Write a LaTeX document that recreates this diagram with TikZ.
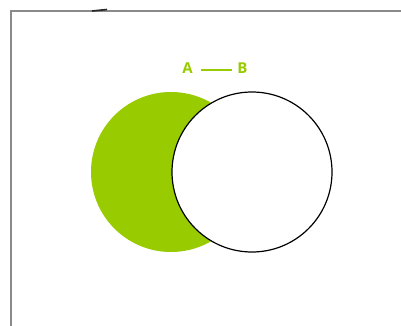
\documentclass[tikz,border=0pt]{standalone}
\usepackage{fontspec}
\setmainfont{Open Sans}
\definecolor{vgreen}{HTML}{99CC00}
\definecolor{framegray}{HTML}{8A8A8A}
\begin{document}
\begin{tikzpicture}[x=1pt,y=-1pt,
  lbl/.style={text=vgreen,font=\fontsize{15}{17}\selectfont\bfseries,inner sep=0pt},
  setcircle/.style={circle,minimum size=160pt,inner sep=0pt}]
\useasboundingbox (0,0) rectangle (401,326);
\fill[white] (0,0) rectangle (401,326);
% frame
\draw[framegray,line width=2pt] (11,326) -- (11,11) -- (401,11);
\draw[black!85,line width=1.6pt] (92,11) -- (107,9.5);
% circles
\node[setcircle,fill=vgreen] (a) at (171,172) {};
\node[setcircle,fill=white,draw=black,line width=1.2pt] (b) at (252,172) {};
% labels
\node[lbl] (la) at (187.5,68) {A};
\node[lbl] (lb) at (242.5,68) {B};
\draw[vgreen,line width=1.5pt] ([xshift=8pt,yshift=-2pt]la.east) -- ([xshift=-5pt,yshift=-2pt]lb.west);
\end{tikzpicture}
\end{document}
